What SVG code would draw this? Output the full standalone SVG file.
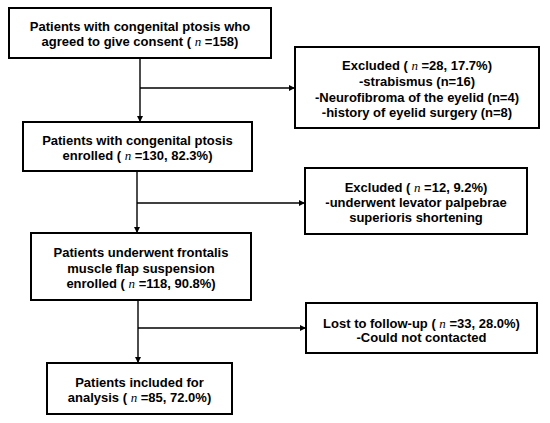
<svg xmlns="http://www.w3.org/2000/svg" width="550" height="423" viewBox="0 0 550 423">
<style>
.box{fill:#fff;stroke:#000;stroke-width:2}
.t{font-family:"Liberation Sans",Arial,sans-serif;font-weight:bold;font-size:13px;text-anchor:middle;fill:#000}
.n{font-family:"Liberation Serif","Times New Roman",serif;font-style:italic;font-weight:normal}
.c{stroke:#000;stroke-width:1.4;fill:none}
</style>
<defs>
<marker id="ah" markerWidth="6" markerHeight="6" refX="5" refY="3" orient="auto" markerUnits="userSpaceOnUse">
<path d="M0,0 L6,3 L0,6 Z" fill="#000"/>
</marker>
</defs>
<rect width="550" height="423" fill="#fff"/>
<g id="connectors">
<line class="c" x1="140" y1="58" x2="140" y2="121" marker-end="url(#ah)"/>
<line class="c" x1="140" y1="88" x2="294" y2="88" marker-end="url(#ah)"/>
<line class="c" x1="137" y1="171" x2="137" y2="232" marker-end="url(#ah)"/>
<line class="c" x1="137" y1="203" x2="304" y2="203" marker-end="url(#ah)"/>
<line class="c" x1="138" y1="300" x2="138" y2="362" marker-end="url(#ah)"/>
<line class="c" x1="138" y1="328" x2="305" y2="328" marker-end="url(#ah)"/>
</g>
<g id="n1">
<rect class="box" x="9" y="8" width="262" height="50"/>
<text class="t" x="140" y="31">Patients with congenital ptosis who</text>
<text class="t" x="140" y="46">agreed to give consent ( <tspan class="n">n</tspan> =158)</text>
</g>
<g id="n2">
<rect class="box" x="295" y="47" width="244" height="81"/>
<text class="t" x="417" y="70">Excluded ( <tspan class="n">n</tspan> =28, 17.7%)</text>
<text class="t" x="417" y="86">-strabismus (n=16)</text>
<text class="t" x="417" y="102">-Neurofibroma of the eyelid (n=4)</text>
<text class="t" x="417" y="117">-history of eyelid surgery (n=8)</text>
</g>
<g id="n3">
<rect class="box" x="23" y="122" width="229" height="49"/>
<text class="t" x="137.5" y="145">Patients with congenital ptosis</text>
<text class="t" x="137.5" y="160">enrolled ( <tspan class="n">n</tspan> =130, 82.3%)</text>
</g>
<g id="n4">
<rect class="box" x="305" y="168" width="222" height="66"/>
<text class="t" x="416" y="191.5">Excluded ( <tspan class="n">n</tspan> =12, 9.2%)</text>
<text class="t" x="416" y="206.5">-underwent levator palpebrae</text>
<text class="t" x="416" y="221.5">superioris shortening</text>
</g>
<g id="n5">
<rect class="box" x="31" y="233" width="220" height="67"/>
<text class="t" x="141" y="257">Patients underwent frontalis</text>
<text class="t" x="141" y="273">muscle flap suspension</text>
<text class="t" x="141" y="288">enrolled ( <tspan class="n">n</tspan> =118, 90.8%)</text>
</g>
<g id="n6">
<rect class="box" x="306" y="303" width="231" height="50"/>
<text class="t" x="421.5" y="328">Lost to follow-up ( <tspan class="n">n</tspan> =33, 28.0%)</text>
<text class="t" x="421.5" y="342">-Could not contacted</text>
</g>
<g id="n7">
<rect class="box" x="47" y="363" width="185" height="51"/>
<text class="t" x="139.5" y="387">Patients included for</text>
<text class="t" x="139.5" y="402">analysis ( <tspan class="n">n</tspan> =85, 72.0%)</text>
</g>
</svg>
